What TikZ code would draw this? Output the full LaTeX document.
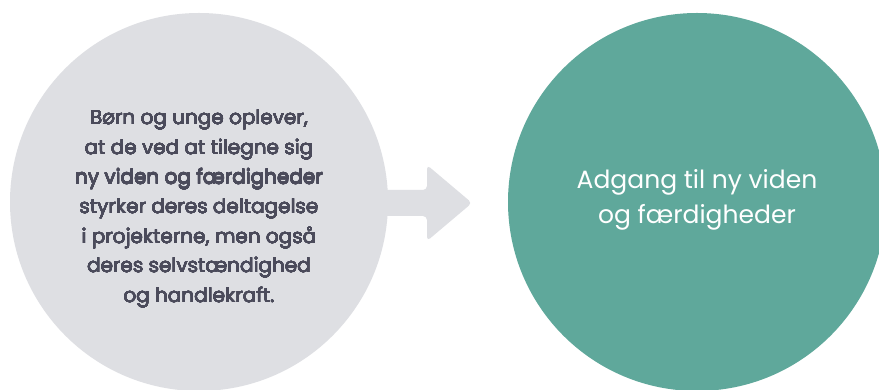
\documentclass[tikz,border=0pt]{standalone}
\usepackage{fontspec}
\usepackage[copies]{contour}
\contournumber{16}
\setmainfont{Poppins}
\definecolor{circgray}{HTML}{DEDFE3}
\definecolor{teal1}{HTML}{5FA89B}
\definecolor{txtdark}{HTML}{4B4B5B}
\newcommand{\lline}[1]{\contourlength{0.15pt}\contour{txtdark}{#1}}
\begin{document}
\begin{tikzpicture}[x=1pt,y=1pt,
  bigcirc/.style={circle, minimum size=378pt, inner sep=0pt},
  lefttext/.style={align=center, text=txtdark, font=\fontsize{20}{29.6}\selectfont},
  righttext/.style={align=center, text=white, font=\fontsize{25}{35}\selectfont}]
\useasboundingbox (0,0) rectangle (879,390);
\clip (0,0) rectangle (879,390);
\fill[white] (0,0) rectangle (879,390);
\node[bigcirc, fill=circgray] (L) at (199,188) {};
\node[bigcirc, fill=teal1] (R) at (697,188) {};
\fill[circgray, rounded corners=4pt]
  (370,200) -- (427,200) -- (427,225) -- (472,187) -- (427,149) -- (427,174) -- (370,174) -- cycle;
\node[lefttext] (LT) at (199,181) {\lline{Børn og unge oplever,}\\\lline{at de ved at tilegne sig}\\\lline{ny viden og færdigheder}\\\lline{styrker deres deltagelse}\\\lline{i projekterne, men også}\\\lline{deres selvstændighed}\\\lline{og handlekraft.}};
\node[righttext] (RT) at (697,190) {Adgang til ny viden\\og færdigheder};
\end{tikzpicture}
\end{document}
